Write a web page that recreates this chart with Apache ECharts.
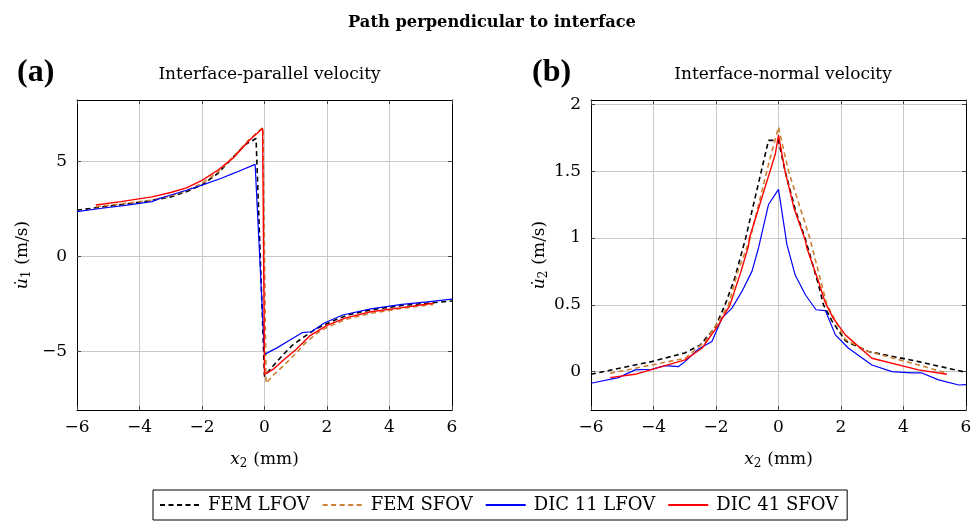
<!DOCTYPE html>
<html><head><meta charset="utf-8">
<script src="https://cdn.jsdelivr.net/npm/echarts@6/dist/echarts.min.js"></script>
<style>html,body{margin:0;padding:0;background:#fff}#c{width:979px;height:522px}</style>
</head><body><div id="c"></div>
<script>
// ---------- data ----------
const seriesNames = ['FEM LFOV', 'FEM SFOV', 'DIC 11 LFOV', 'DIC 41 SFOV'];
const xTicks = [-6, -4, -2, 0, 2, 4, 6];
const yTicksA = [-5, 0, 5];
const yTicksB = [0, 0.5, 1, 1.5, 2];

// Panel (a): interface-parallel velocity
const aFemLfovX = [-6, -5.2, -4.4, -3.7, -3.0, -2.5, -2.0, -1.5, -1.0, -0.6, -0.27, 0.0, 0.3, 0.6, 0.9, 1.24, 1.6, 1.9, 2.3, 2.7, 3.4, 4.4, 5.2, 6];
const aFemLfovY = [2.45, 2.62, 2.78, 2.94, 3.15, 3.42, 3.78, 4.38, 5.24, 5.92, 6.22, -6.3, -5.7, -5.15, -4.65, -4.25, -3.85, -3.6, -3.3, -3.05, -2.8, -2.57, -2.45, -2.33];
const aFemSfovX = [-5.4, -4.6, -3.6, -3.0, -2.5, -2.0, -1.5, -1.0, -0.5, -0.05, 0.05, 0.3, 0.6, 1.0, 1.3, 1.7, 2.0, 2.6, 3.4, 4.4, 5.4];
const aFemSfovY = [2.63, 2.78, 2.98, 3.2, 3.48, 3.86, 4.45, 5.26, 6.15, 6.81, -6.66, -6.2, -5.75, -5.1, -4.55, -4.0, -3.72, -3.3, -2.98, -2.72, -2.51];
const aDic11X = [-6, -5.2, -4.4, -3.6, -3.35, -3.0, -2.5, -2.0, -1.4, -0.9, -0.3, 0.0, 0.4, 0.8, 1.2, 1.5, 1.9, 2.5, 3.4, 4.4, 5.2, 6];
const aDic11Y = [2.37, 2.55, 2.72, 2.9, 3.07, 3.25, 3.5, 3.77, 4.12, 4.45, 4.86, -5.14, -4.8, -4.4, -4.0, -3.95, -3.5, -3.07, -2.75, -2.51, -2.38, -2.23];
const aDic41X = [-5.4, -4.6, -3.6, -3.0, -2.5, -2.0, -1.5, -1.0, -0.95, -0.5, -0.06, 0.0, 0.3, 0.6, 1.0, 1.46, 2.0, 2.6, 3.4, 4.4, 5.4];
const aDic41Y = [2.72, 2.9, 3.15, 3.38, 3.62, 4.02, 4.55, 5.2, 5.3, 6.1, 6.76, -6.2, -5.9, -5.45, -4.9, -4.15, -3.62, -3.22, -2.9, -2.68, -2.45];

// Panel (b): interface-normal velocity
const bFemLfovX = [-6, -5, -4.06, -3, -2.5, -2.03, -1.71, -1.4, -1.05, -0.55, -0.32, 0.0, 0.21, 0.55, 0.85, 1.28, 1.44, 1.71, 2.14, 2.88, 4.48, 6];
const bFemLfovY = [-0.02, 0.03, 0.075, 0.14, 0.2, 0.33, 0.5, 0.7, 1.0, 1.5, 1.73, 1.73, 1.5, 1.2, 1.0, 0.65, 0.5, 0.38, 0.23, 0.15, 0.075, -0.005];
const bFemSfovX = [-5.39, -4.06, -2.99, -2.35, -1.92, -1.6, -1.3, -0.9, -0.32, 0.0, 0.32, 1.0, 1.55, 2.14, 2.88, 4.48, 5.39];
const bFemSfovY = [-0.012, 0.05, 0.1, 0.225, 0.375, 0.5, 0.75, 1.0, 1.55, 1.83, 1.5, 1.0, 0.5, 0.24, 0.15, 0.05, -0.012];
const bDic11X = [-6, -5.12, -4.59, -4.06, -3.63, -3.2, -2.99, -2.56, -2.13, -1.81, -1.49, -1.17, -0.85, -0.64, -0.32, 0, 0.27, 0.53, 0.86, 1.2, 1.5, 1.82, 2.24, 2.99, 3.63, 4.27, 4.59, 5.12, 5.77, 6];
const bDic11Y = [-0.087, -0.045, 0.013, 0.018, 0.045, 0.038, 0.075, 0.17, 0.225, 0.4, 0.475, 0.6, 0.75, 0.925, 1.25, 1.363, 0.95, 0.725, 0.575, 0.463, 0.457, 0.275, 0.175, 0.05, 0.0, -0.01, -0.01, -0.062, -0.1, -0.097];
const bDic41X = [-5.39, -4.59, -2.99, -2.45, -1.92, -1.55, -1.2, -0.96, -0.93, -0.6, -0.27, -0.1, 0, 0.21, 0.5, 0.86, 0.9, 1.28, 1.49, 1.75, 2.14, 2.99, 4.48, 5.39];
const bDic41Y = [-0.045, -0.02, 0.088, 0.175, 0.35, 0.5, 0.75, 0.94, 1.0, 1.25, 1.5, 1.63, 1.77, 1.5, 1.22, 0.98, 0.93, 0.675, 0.52, 0.4, 0.275, 0.1, 0.013, -0.02];

// ---------- build ----------
const zip = (xs, ys) => xs.map((x, i) => [x, ys[i]]);
const FONT = 'DejaVu Serif';
const FS = 17;
const colors = ['#000000', '#cc8033', '#0000ff', '#ff0000'];
const styles = [
  { width: 1.6, type: [5, 3.5] },
  { width: 1.6, type: [5, 3.5] },
  { width: 1.2, type: 'solid' },
  { width: 1.4, type: 'solid' }
];
const fmt = v => (v < 0 ? '\u2212' + Math.abs(v) : String(v));

const grids = [
  { left: 77, right: 979 - 452, top: 100, bottom: 522 - 410 },
  { left: 591, right: 979 - 966, top: 100, bottom: 522 - 410 }
];
const gridLine = { show: true, lineStyle: { color: '#c8c8c8', width: 1 } };
const axLine = { show: true, onZero: false, lineStyle: { color: '#000', width: 1 } };
const labelStyle = { fontFamily: FONT, fontSize: FS, color: '#000' };
const nameRich = {
  i: { fontFamily: FONT, fontStyle: 'italic', fontSize: FS },
  s: { fontFamily: FONT, fontSize: 12, padding: [8, 6, 0, 0] }
};

function xAx(gi, main) {
  return {
    type: 'value', gridIndex: gi, min: -6, max: 6, interval: 2,
    position: main ? 'bottom' : 'top',
    axisLine: axLine,
    axisTick: { show: true, inside: true, length: 4, lineStyle: { color: '#444' } },
    axisLabel: main ? Object.assign({ formatter: fmt, margin: 9 }, labelStyle) : { show: false },
    splitLine: main ? gridLine : { show: false },
    name: main ? '{i|x}{s|2}(mm)' : '',
    nameLocation: 'middle', nameGap: 40,
    nameTextStyle: { fontFamily: FONT, fontSize: FS, color: '#000', rich: nameRich }
  };
}
function yAx(gi, main, min, max, ticks, sub, gap) {
  return {
    type: 'value', gridIndex: gi, min: min, max: max,
    position: main ? 'left' : 'right',
    axisLine: axLine,
    axisTick: { show: true, inside: true, length: 4, customValues: ticks, lineStyle: { color: '#444' } },
    axisLabel: main ? Object.assign({ formatter: fmt, customValues: ticks, margin: 10 }, labelStyle) : { show: false, customValues: ticks },
    splitLine: main ? gridLine : { show: false },
    name: main ? '{i|u\u0307}{s|' + sub + '}(m/s)' : '',
    nameLocation: 'middle', nameGap: gap, nameRotate: 90,
    nameTextStyle: { fontFamily: FONT, fontSize: FS, color: '#000', rich: nameRich }
  };
}

const xAxis = [xAx(0, true), xAx(0, false), xAx(1, true), xAx(1, false)];
const yAxis = [
  yAx(0, true, -8.07, 8.25, yTicksA, '1', 44),
  yAx(0, false, -8.07, 8.25, yTicksA, '1', 44),
  yAx(1, true, -0.287, 2.032, yTicksB, '2', 40),
  yAx(1, false, -0.287, 2.032, yTicksB, '2', 40)
];

const panelData = [
  [zip(aFemLfovX, aFemLfovY), zip(aFemSfovX, aFemSfovY), zip(aDic11X, aDic11Y), zip(aDic41X, aDic41Y)],
  [zip(bFemLfovX, bFemLfovY), zip(bFemSfovX, bFemSfovY), zip(bDic11X, bDic11Y), zip(bDic41X, bDic41Y)]
];
const drawOrder = [2, 0, 1, 3];
const series = [];
[0, 1].forEach(p => {
  drawOrder.forEach(k => {
    series.push({
      name: seriesNames[k], type: 'line', xAxisIndex: p * 2, yAxisIndex: p * 2,
      data: panelData[p][k], symbol: 'none', animation: false, z: 3 + k,
      lineStyle: { color: colors[k], width: styles[k].width, type: styles[k].type },
      itemStyle: { color: colors[k] }
    });
  });
});

const chart = echarts.init(document.getElementById('c'), null, { renderer: 'canvas' });
chart.setOption({
  animation: false,
  backgroundColor: '#fff',
  title: [
    { text: 'Path perpendicular to interface', left: 487, top: 10, textAlign: 'center',
      textStyle: { fontFamily: FONT, fontWeight: 'bold', fontSize: 16.3, color: '#000' } },
    { text: '(a)', left: 12, top: 52, textStyle: { fontFamily: 'Liberation Serif', fontWeight: 'bold', fontSize: 32, color: '#000' } },
    { text: '(b)', left: 527, top: 52, textStyle: { fontFamily: 'Liberation Serif', fontWeight: 'bold', fontSize: 32, color: '#000' } },
    { text: 'Interface-parallel velocity', left: 264.5, top: 61, textAlign: 'center',
      textStyle: { fontFamily: FONT, fontWeight: 'normal', fontSize: FS, color: '#000' } },
    { text: 'Interface-normal velocity', left: 778, top: 61, textAlign: 'center',
      textStyle: { fontFamily: FONT, fontWeight: 'normal', fontSize: FS, color: '#000' } }
  ],
  legend: {
    data: seriesNames, left: 153, top: 490,
    orient: 'horizontal', itemWidth: 40, itemHeight: 10, itemGap: 12,
    padding: [6, 9, 6, 6], borderColor: '#000', borderWidth: 1, borderRadius: 0,
    itemStyle: { opacity: 0 },
    textStyle: { fontFamily: FONT, fontSize: 18, color: '#000', padding: [0, 0, 0, 3] }
  },
  grid: grids,
  xAxis: xAxis,
  yAxis: yAxis,
  series: series
});
</script></body></html>
